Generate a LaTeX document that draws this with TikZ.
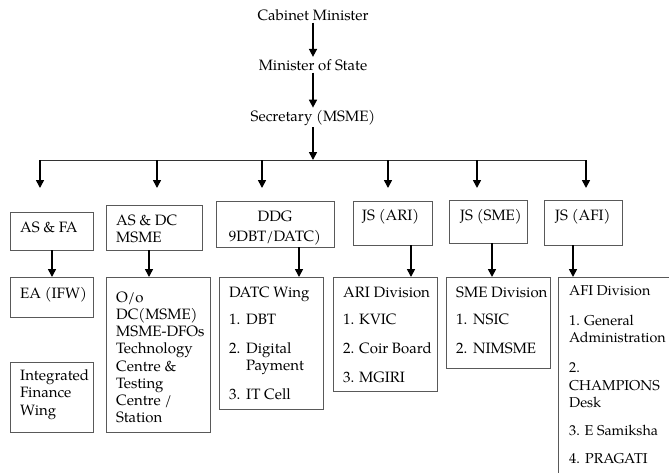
\documentclass[tikz,border=0pt]{standalone}
\usepackage{fontspec}
\setmainfont{texgyrepagella}[Extension=.otf,UprightFont=*-regular,BoldFont=*-bold]
\usetikzlibrary{arrows.meta}
\begin{document}
\begin{tikzpicture}[x=1pt,y=-1pt,
  box/.style={draw=black!65, line width=0.8pt, inner sep=0pt, outer sep=0pt, anchor=north west},
  txt/.style={inner sep=0pt, anchor=north west, align=left},
  toptxt/.style={inner sep=2pt, anchor=base},
  arr/.style={-{Triangle[length=8pt,width=8pt]}, line width=1.6pt, black},
  busline/.style={line width=1pt, black!80},
  font=\fontsize{15}{17.5}\selectfont]
\clip (0,0) rectangle (669,472);
\fill[white] (0,0) rectangle (669,472);

% top chain
\node[toptxt] (cab) at (313,20) {Cabinet Minister};
\node[toptxt] (mos) at (313,70) {Minister of State};
\node[toptxt] (sec) at (313,121) {Secretary (MSME)};
\coordinate (bus) at (313,160);
\draw[arr] (cab) -- (mos);
\draw[arr] (mos) -- (sec);
\draw[arr] (sec) -- (bus);

% bus and branches
\coordinate (b1) at (40,160);  \coordinate (d1) at (40,188);
\coordinate (b2) at (157,160); \coordinate (d2) at (157,188);
\coordinate (b3) at (262,160); \coordinate (d3) at (262,188);
\coordinate (b4) at (388,160); \coordinate (d4) at (388,188);
\coordinate (b5) at (477,160); \coordinate (d5) at (477,188);
\coordinate (b6) at (586,160); \coordinate (d6) at (586,188);
\draw[busline] (b1) -- (b6);
\foreach \i in {1,...,6} { \draw[arr] (b\i) -- (d\i); }

% first row boxes
\node[box, minimum width=83pt, minimum height=38pt] (asfa) at (10,212) {};
\node[box, minimum width=96pt, minimum height=45pt] (asdc) at (106,205) {};
\node[box, minimum width=118pt, minimum height=46pt] (ddg) at (216,201) {};
\node[box, minimum width=79pt, minimum height=44pt] (jsari) at (353,201) {};
\node[box, minimum width=78pt, minimum height=43pt] (jssme) at (449,200) {};
\node[box, minimum width=78pt, minimum height=45pt] (jsafi) at (544,200) {};

\node[txt] (tasfa) at (20,219.75) {\strut AS \& FA};
\node[txt] (tasdc) at (116,212.75) {\strut AS \& DC\\MSME};
\node[txt, anchor=north, align=center] (tddg) at (275,208.75) {\strut DDG\\[2.5pt]9DBT/DATC)};
\node[txt] (tjsari) at (362,207.75) {\strut JS (ARI)};
\node[txt] (tjssme) at (460,207.75) {\strut JS (SME)};
\node[txt] (tjsafi) at (555,207.75) {\strut JS (AFI)};

% second row boxes
\node[box, minimum width=83pt, minimum height=40pt] (eaifw) at (10,277) {};
\node[box, minimum width=104pt, minimum height=155pt] (oo) at (106,277) {};
\node[box, minimum width=83pt, minimum height=70pt] (ifw) at (10,362) {};
\node[box, minimum width=104pt, minimum height=132pt] (datc) at (219,277) {};
\node[box, minimum width=104pt, minimum height=114pt] (ari) at (333,277) {};
\node[box, minimum width=104pt, minimum height=91pt] (sme) at (446,277) {};
\node[box, minimum width=140pt, minimum height=220pt] (afi) at (558,277) {};

\node[txt] (teaifw) at (20,285.75) {\strut EA (IFW)};
\node[txt, font=\fontsize{15}{17.2}\selectfont] (too) at (116,289.96)
  {\strut O/o\\DC(MSME)\\MSME-DFOs\\Technology\\Centre \&\\Testing\\Centre /\\Station};
\node[txt] (tifw) at (20,367.75) {\strut Integrated\\Finance\\Wing};
\node[txt] (tdatc) at (229,284.75)
  {\strut DATC Wing\\[9.5pt]\makebox[17pt][l]{1.}DBT\\[11.5pt]\makebox[17pt][l]{2.}Digital\\\hspace*{17pt}Payment\\[11.5pt]\makebox[17pt][l]{3.}IT Cell};
\node[txt] (tari) at (343,284.75)
  {\strut ARI Division\\[9.5pt]\makebox[16pt][l]{1.}KVIC\\[11.5pt]\makebox[16pt][l]{2.}Coir Board\\[11.5pt]\makebox[16pt][l]{3.}MGIRI};
\node[txt] (tsme) at (456,284.75)
  {\strut SME Division\\[9.5pt]\makebox[17pt][l]{1.}NSIC\\[11.5pt]\makebox[17pt][l]{2.}NIMSME};
\node[txt, font=\fontsize{14.3}{17.5}\selectfont] (tafi) at (569,282.75)
  {\strut AFI Division\\[12.5pt]\makebox[15pt][l]{1.}General\\Administration\\[12.5pt]2.\\CHAMPIONS\\Desk\\[10.5pt]3. E Samiksha\\[10.5pt]\makebox[16pt][l]{4.}PRAGATI};

% row connectors
\coordinate (x1) at (52,0);
\coordinate (x2) at (149,0);
\coordinate (x3) at (299,0);
\coordinate (x4) at (411,0);
\coordinate (x5) at (492,0);
\coordinate (x6) at (573,0);
\draw[arr] (asfa.south -| x1) -- (eaifw.north -| x1);
\draw[arr] (asdc.south -| x2) -- (oo.north -| x2);
\draw[arr] (ddg.south -| x3) -- (datc.north -| x3);
\draw[arr] (jsari.south -| x4) -- (ari.north -| x4);
\draw[arr] (jssme.south -| x5) -- (sme.north -| x5);
\draw[arr] (jsafi.south -| x6) -- (afi.north -| x6);
\end{tikzpicture}
\end{document}
